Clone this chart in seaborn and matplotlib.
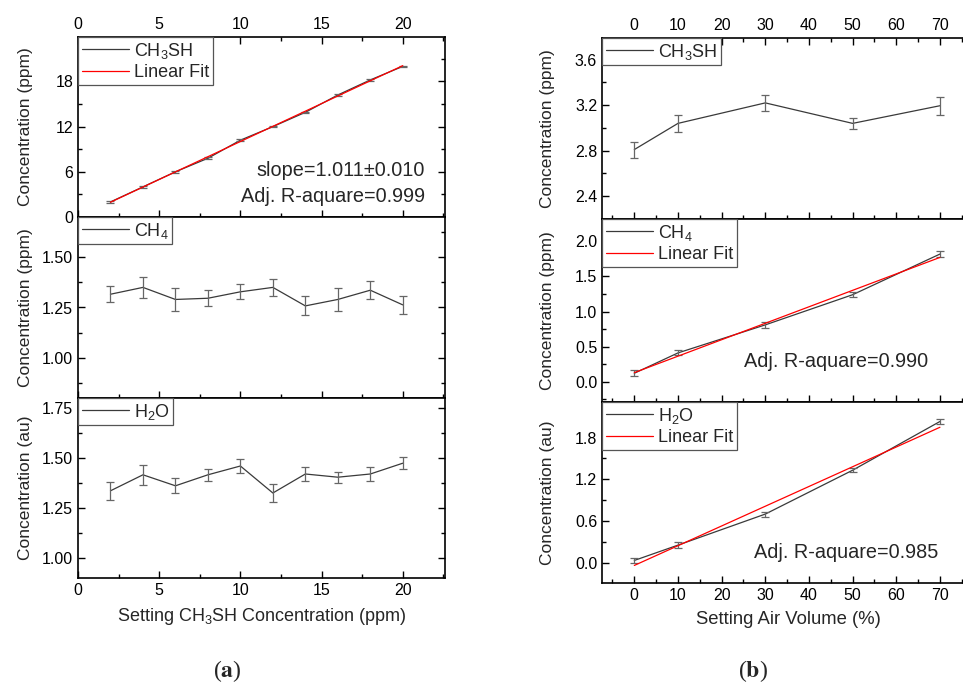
import numpy as np
import seaborn as sns
import matplotlib.pyplot as plt
from matplotlib.ticker import MultipleLocator, FixedLocator

# (a) varying CH3SH setting
conc_set = [2, 4, 6, 8, 10, 12, 14, 16, 18, 20]
ch3sh_a = [2.0, 4.0, 6.0, 7.8, 10.2, 12.0, 13.9, 16.2, 18.2, 20.0]
ch3sh_a_err = [0.1, 0.1, 0.1, 0.12, 0.1, 0.1, 0.1, 0.1, 0.1, 0.1]
ch4_a = [1.316, 1.350, 1.290, 1.296, 1.328, 1.350, 1.258, 1.290, 1.336, 1.263]
ch4_a_err = [0.040, 0.054, 0.056, 0.039, 0.037, 0.041, 0.047, 0.055, 0.044, 0.043]
h2o_a = [1.336, 1.416, 1.361, 1.416, 1.460, 1.325, 1.420, 1.404, 1.420, 1.474]
h2o_a_err = [0.044, 0.049, 0.038, 0.031, 0.036, 0.045, 0.034, 0.027, 0.033, 0.029]

# (b) varying air volume
air_vol = [0, 10, 30, 50, 70]
ch3sh_b = [2.81, 3.04, 3.22, 3.04, 3.195]
ch3sh_b_err = [0.07, 0.077, 0.069, 0.047, 0.079]
ch4_b = [0.12, 0.41, 0.81, 1.24, 1.82]
ch4_b_err = [0.04, 0.036, 0.048, 0.033, 0.043]
h2o_b = [0.034, 0.254, 0.70, 1.33, 2.03]
h2o_b_err = [0.03, 0.043, 0.036, 0.031, 0.031]

sns.set_theme(style='ticks')
plt.rcParams['font.family'] = ['Liberation Sans', 'DejaVu Sans']
plt.rcParams['mathtext.fontset'] = 'custom'
plt.rcParams['mathtext.rm'] = 'Liberation Sans'
plt.rcParams['mathtext.it'] = 'Liberation Sans:italic'
plt.rcParams['mathtext.bf'] = 'Liberation Sans:bold'

LINE = '#3a3a3a'
ERR = '#666666'

fig = plt.figure(figsize=(9.63, 6.84), dpi=100)

W, H = 963.0, 684.0


def make_ax(x0, x1, y0, y1):
    return fig.add_axes([x0 / W, 1 - y1 / H, (x1 - x0) / W, (y1 - y0) / H])


def style_ax(ax, top_labels=False, bottom_labels=False):
    for s in ax.spines.values():
        s.set_linewidth(1.2)
        s.set_color('black')
    ax.tick_params(which='both', direction='in', top=top_labels, right=True,
                   labeltop=top_labels, labelbottom=bottom_labels,
                   labelsize=11.5, colors='black', width=1.0)
    ax.tick_params(which='major', length=5)
    ax.tick_params(which='minor', length=3)
    ax.grid(False)


def draw(ax, x, y, err, name, fit=False):
    sns.lineplot(x=x, y=y, ax=ax, color=LINE, lw=0.9, label=name, legend=False)
    ax.errorbar(x, y, yerr=err, fmt='none', ecolor=ERR, elinewidth=0.9,
                capsize=3, capthick=0.9)
    if fit:
        k, b = np.polyfit(x, y, 1)
        xs = np.array([min(x), max(x)])
        sns.lineplot(x=xs, y=k * xs + b, ax=ax, color='red', lw=0.9,
                     label='Linear Fit', legend=False)
    leg = ax.legend(loc='upper left', borderaxespad=0, fancybox=False,
                    framealpha=1, edgecolor='#555555', fontsize=13,
                    handlelength=2.6, handletextpad=0.3, borderpad=0.2,
                    labelspacing=0.2)
    leg.get_frame().set_linewidth(0.9)


# ---- (a) ----
axa1 = make_ax(78, 445, 37, 217)
axa2 = make_ax(78, 445, 217, 398)
axa3 = make_ax(78, 445, 398, 578)

draw(axa1, conc_set, ch3sh_a, ch3sh_a_err, 'CH$_3$SH', fit=True)
draw(axa2, conc_set, ch4_a, ch4_a_err, 'CH$_4$')
draw(axa3, conc_set, h2o_a, h2o_a_err, 'H$_2$O')

for ax in (axa1, axa2, axa3):
    ax.set_xlim(0, 22.6)
    ax.xaxis.set_major_locator(MultipleLocator(5))
    ax.xaxis.set_minor_locator(MultipleLocator(2.5))
    ax.set_xlabel('')

axa1.set_ylim(0, 23.9)
axa1.yaxis.set_major_locator(MultipleLocator(6))
axa1.yaxis.set_minor_locator(MultipleLocator(3))
axa2.set_ylim(0.8, 1.7)
axa2.yaxis.set_major_locator(MultipleLocator(0.25))
axa2.yaxis.set_minor_locator(MultipleLocator(0.125))
axa3.set_ylim(0.9, 1.8)
axa3.yaxis.set_major_locator(FixedLocator([1.0, 1.25, 1.5, 1.75]))
axa3.yaxis.set_minor_locator(FixedLocator([0.875, 1.125, 1.375, 1.625]))
axa2.yaxis.set_major_formatter('{x:.2f}')
axa3.yaxis.set_major_formatter('{x:.2f}')

style_ax(axa1, top_labels=True)
style_ax(axa2)
style_ax(axa3, bottom_labels=True)

axa1.text(0.946, 0.26, 'slope=1.011\u00b10.010', transform=axa1.transAxes,
          ha='right', va='center', fontsize=14.3)
axa1.text(0.946, 0.115, 'Adj. R-aquare=0.999', transform=axa1.transAxes,
          ha='right', va='center', fontsize=14.3)

for ax, lab in ((axa1, 'Concentration (ppm)'), (axa2, 'Concentration (ppm)'),
                (axa3, 'Concentration (au)')):
    ax.set_ylabel(lab, fontsize=12.5)
    ax.yaxis.set_label_coords(-0.123, 0.5)
axa3.set_xlabel('Setting CH$_3$SH Concentration (ppm)', fontsize=13, labelpad=6)

# ---- (b) ----
axb1 = make_ax(602, 974, 38, 219)
axb2 = make_ax(602, 974, 219, 402)
axb3 = make_ax(602, 974, 402, 583)

draw(axb1, air_vol, ch3sh_b, ch3sh_b_err, 'CH$_3$SH')
draw(axb2, air_vol, ch4_b, ch4_b_err, 'CH$_4$', fit=True)
draw(axb3, air_vol, h2o_b, h2o_b_err, 'H$_2$O', fit=True)

for ax in (axb1, axb2, axb3):
    ax.set_xlim(-7.4, 77.8)
    ax.xaxis.set_major_locator(MultipleLocator(10))
    ax.xaxis.set_minor_locator(MultipleLocator(5))
    ax.set_xlabel('')

axb1.set_ylim(2.2, 3.79)
axb1.yaxis.set_major_locator(MultipleLocator(0.4))
axb1.yaxis.set_minor_locator(MultipleLocator(0.2))
axb2.set_ylim(-0.29, 2.32)
axb2.yaxis.set_major_locator(MultipleLocator(0.5))
axb2.yaxis.set_minor_locator(MultipleLocator(0.25))
axb3.set_ylim(-0.29, 2.31)
axb3.yaxis.set_major_locator(MultipleLocator(0.6))
axb3.yaxis.set_minor_locator(MultipleLocator(0.3))
for ax in (axb1, axb2, axb3):
    ax.yaxis.set_major_formatter('{x:.1f}')

style_ax(axb1, top_labels=True)
style_ax(axb2)
style_ax(axb3, bottom_labels=True)

axb2.text(0.876, 0.219, 'Adj. R-aquare=0.990', transform=axb2.transAxes,
          ha='right', va='center', fontsize=14.3)
axb3.text(0.903, 0.166, 'Adj. R-aquare=0.985', transform=axb3.transAxes,
          ha='right', va='center', fontsize=14.3)

for ax, lab in ((axb1, 'Concentration (ppm)'), (axb2, 'Concentration (ppm)'),
                (axb3, 'Concentration (au)')):
    ax.set_ylabel(lab, fontsize=12.5)
    ax.yaxis.set_label_coords(-0.126, 0.5)
axb3.set_xlabel('Setting Air Volume (%)', fontsize=13.3, labelpad=6)

fig.text(227 / W, 1 - 671 / H, '($\\mathbf{a}$)', ha='center', va='center',
         fontsize=17, family='Liberation Serif', math_fontfamily='stix')
fig.text(753 / W, 1 - 671 / H, '($\\mathbf{b}$)', ha='center', va='center',
         fontsize=17, family='Liberation Serif', math_fontfamily='stix')

fig.savefig('out.png', dpi=100)
